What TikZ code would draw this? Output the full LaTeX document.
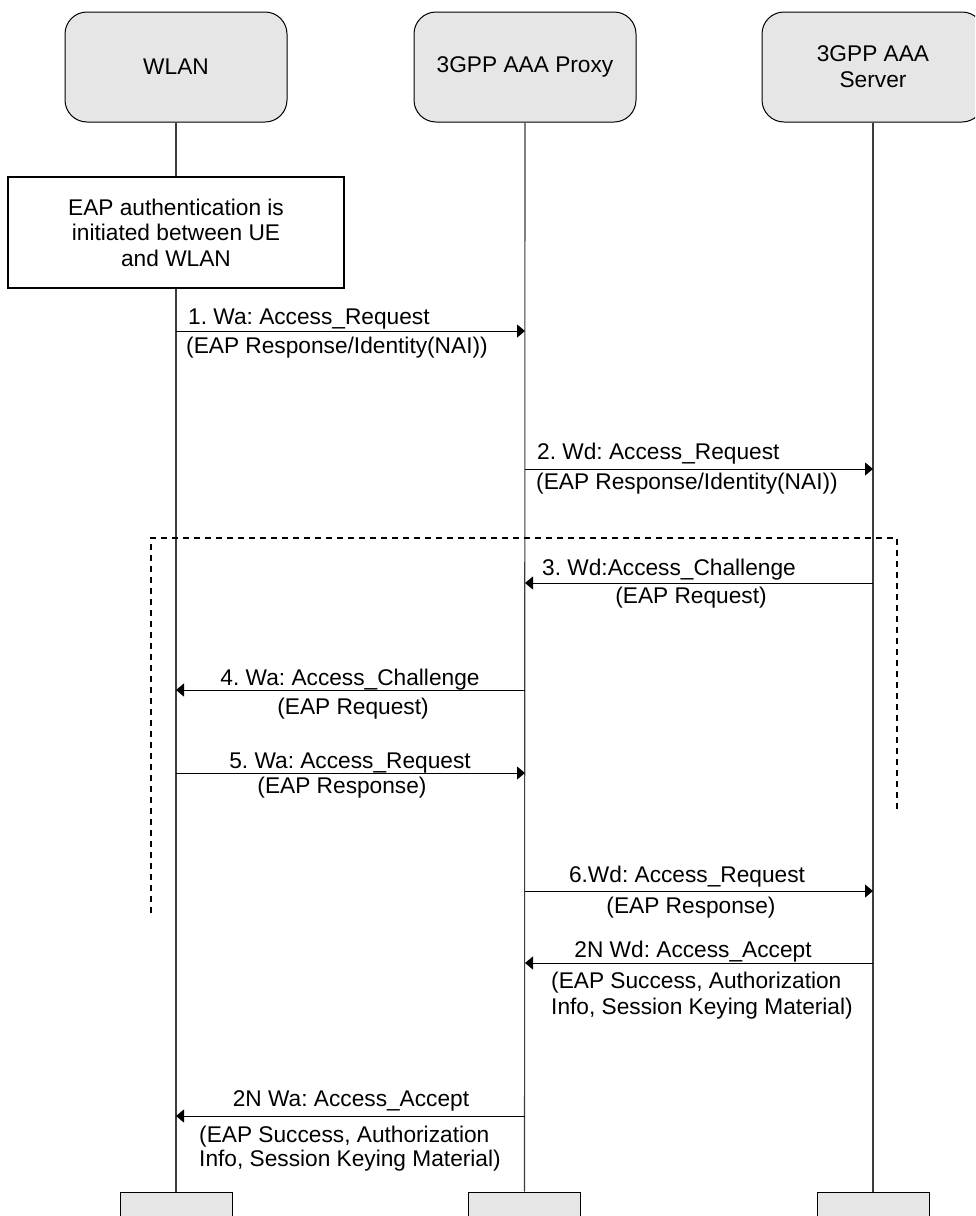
\documentclass[tikz,border=0pt]{standalone}
\usepackage{fontspec}
\setmainfont{Liberation Sans}
\usetikzlibrary{arrows.meta}
\definecolor{boxgray}{RGB}{230,230,230}
\definecolor{lifegray}{RGB}{60,60,60}
\frenchspacing
\begin{document}
\begin{tikzpicture}[x=1pt,y=-1pt,
  every node/.style={font=\fontsize{22.7}{26}\selectfont, inner sep=0pt},
  entity/.style={draw=black, line width=1pt, fill=boxgray, rounded corners=22pt, minimum width=222pt, minimum height=110pt, align=center},
  endbox/.style={draw=black, line width=1pt, fill=boxgray, minimum width=112pt, minimum height=48pt},
  note/.style={draw=black, line width=1.3pt, fill=white, minimum width=336pt, minimum height=111pt, align=center, font=\fontsize{22.7}{25.5}\selectfont},
  lifeline/.style={draw=lifegray, line width=1.1pt},
  msg/.style={draw=black, line width=1pt, -{Triangle[length=8pt,width=13pt]}},
  lbl/.style={anchor=base},
  lblw/.style={anchor=base west},
  region/.style={draw=black, line width=1.5pt, dash pattern=on 6pt off 5pt}
]
\useasboundingbox (0,0) rectangle (975,1216);
\clip (0,0) rectangle (975,1216);
\fill[white] (0,0) rectangle (975,1216);

% entities
\node[entity] (wlan) at (176,67) {WLAN};
\node[entity] (proxy) at (525,67) {3GPP AAA Proxy};
\node[entity] (server) at (873,67) {3GPP AAA\\Server};

\node[endbox] (wlanB) at (176,1216) {};
\node[endbox] (proxyB) at (524.5,1216) {};
\node[endbox] (serverB) at (873,1216) {};

% lifelines
\draw[lifeline] (wlan.south) -- (wlanB.north);
\draw[lifeline] (proxy.south) -- (proxyB.north);
\draw[lifeline] (server.south) -- (serverB.north);

% note
\node[note] (eap) at (176,232.5) {EAP authentication is\\initiated between UE\\and WLAN};

% dashed region
\coordinate (d1) at (151,913);
\coordinate (d2) at (151,538);
\coordinate (d3) at (897,538);
\coordinate (d4) at (897,810);
\draw[region] (d1) -- (d2) -- (d3) -- (d4);

% message end points on lifelines
\coordinate (m1a) at (176,331);  \coordinate (m1b) at (525,331);
\coordinate (m2a) at (525,469);  \coordinate (m2b) at (873,469);
\coordinate (m3a) at (873,583);  \coordinate (m3b) at (525,583);
\coordinate (m4a) at (525,690);  \coordinate (m4b) at (176,690);
\coordinate (m5a) at (176,773);  \coordinate (m5b) at (525,773);
\coordinate (m6a) at (525,891);  \coordinate (m6b) at (873,891);
\coordinate (m7a) at (873,963);  \coordinate (m7b) at (525,963);
\coordinate (m8a) at (525,1116); \coordinate (m8b) at (176,1116);

\draw[msg] (m1a) -- (m1b);
\draw[msg] (m2a) -- (m2b);
\draw[msg] (m3a) -- (m3b);
\draw[msg] (m4a) -- (m4b);
\draw[msg] (m5a) -- (m5b);
\draw[msg] (m6a) -- (m6b);
\draw[msg] (m7a) -- (m7b);
\draw[msg] (m8a) -- (m8b);

% labels
\node[lblw] (l1a) at (188,324) {1. Wa: Access\_Request};
\node[lblw] (l1b) at (186,353) {(EAP Response/Identity(NAI))};
\node[lblw] (l2a) at (537,459) {2. Wd: Access\_Request};
\node[lblw] (l2b) at (536,489) {(EAP Response/Identity(NAI))};
\node[lbl] (l3a) at (669,575) {3. Wd:Access\_Challenge};
\node[lbl] (l3b) at (691,603) {(EAP Request)};
\node[lbl] (l4a) at (350,685) {4. Wa: Access\_Challenge};
\node[lbl] (l4b) at (353,714) {(EAP Request)};
\node[lbl] (l5a) at (350,768) {5. Wa: Access\_Request};
\node[lbl] (l5b) at (342,793) {(EAP Response)};
\node[lbl] (l6a) at (687,882) {6.Wd: Access\_Request};
\node[lbl] (l6b) at (691,913) {(EAP Response)};
\node[lbl] (l7a) at (693,957) {2N Wd: Access\_Accept};
\node[lblw] (l7b) at (551,988) {(EAP Success, Authorization};
\node[lblw] (l7c) at (551,1014) {Info, Session Keying Material)};
\node[lbl] (l8a) at (351,1106) {2N Wa: Access\_Accept};
\node[lblw] (l8b) at (199,1142) {(EAP Success, Authorization};
\node[lblw] (l8c) at (199,1166) {Info, Session Keying Material)};
\end{tikzpicture}
\end{document}
